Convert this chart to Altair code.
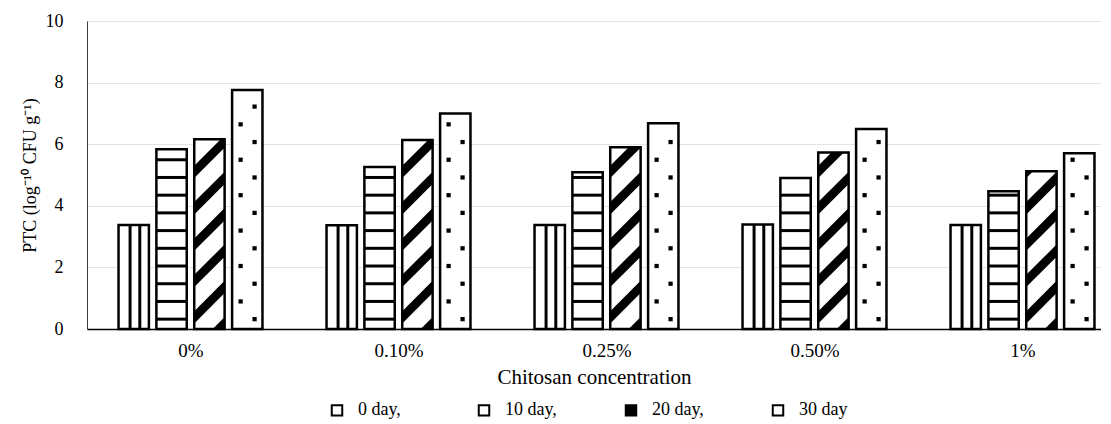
import altair as alt
import pandas as pd

# ---------------- data ----------------
categories = ["0%", "0.10%", "0.25%", "0.50%", "1%"]
days = ["0 day", "10 day", "20 day", "30 day"]
day0 = [3.38, 3.37, 3.38, 3.39, 3.38]
day10 = [5.84, 5.26, 5.09, 4.90, 4.47]
day20 = [6.16, 6.14, 5.90, 5.73, 5.12]
day30 = [7.76, 7.00, 6.68, 6.49, 5.71]
series = [day0, day10, day20, day30]
legend_fill = ["white", "white", "black", "white"]

# ---------------- style / layout constants ----------------
FONT = "Liberation Serif"
W_PX, H_PX = 1014, 308
X_MIN, X_MAX = -0.4976, 4.3774      # x scale domain (category index units)
PITCH = 0.182                        # distance between bars in a group
BAR_W = 0.146                        # bar width
STEP = 0.575                         # vertical pattern step (y units)
PX_X = W_PX / (X_MAX - X_MIN)
PX_Y = H_PX / 10.0
SLOPE = PX_X / PX_Y                  # 45 degree stripes (y units per x unit)
PERIOD = 1.18                        # stripe period (y units)
THICK = 0.40                         # stripe vertical thickness (y units)

bars, vlines, hlines, stripes, dots = [], [], [], [], []
sid = 0
for gi, cat in enumerate(categories):
    for si, day in enumerate(days):
        v = series[si][gi]
        xl = gi + (si - 1.5) * PITCH - BAR_W / 2
        xr = xl + BAR_W
        bars.append(dict(cat=cat, day=day, value=v, xl=xl, xr=xr, idx=gi))
        if si == 0:
            for f in (0.38, 0.70):
                vlines.append(dict(x=xl + BAR_W * f, y=0, y2=v))
        elif si == 1:
            k = 0
            while 0.32 + k * STEP < v - 0.12:
                hlines.append(dict(x=xl, x2=xr, y=0.32 + k * STEP))
                k += 1
        elif si == 2:
            y0 = -1.0
            while y0 < v:
                cands = {xl, xr}
                for base in (y0, y0 + THICK):
                    for lim in (0.0, v):
                        xc = xl + (lim - base) / SLOPE
                        if xl < xc < xr:
                            cands.add(xc)
                for xc in sorted(cands):
                    lo = min(max(y0 + SLOPE * (xc - xl), 0.0), v)
                    hi = min(max(y0 + THICK + SLOPE * (xc - xl), 0.0), v)
                    stripes.append(dict(sid=sid, x=xc, y=lo, y2=hi))
                sid += 1
                y0 += PERIOD
        else:
            k = 0
            while 0.32 + k * STEP < v - 0.12:
                f = 0.74 if k % 2 == 0 else 0.28
                dots.append(dict(x=xl + BAR_W * f, y=0.32 + k * STEP))
                k += 1

df_bars = pd.DataFrame(bars)
df_v = pd.DataFrame(vlines)
df_h = pd.DataFrame(hlines)
df_s = pd.DataFrame(stripes)
df_d = pd.DataFrame(dots)

label_expr = "[" + ",".join("'%s'" % c for c in categories) + "][round(datum.value)]"

xscale = alt.Scale(domain=[X_MIN, X_MAX], nice=False, zero=False)
yscale = alt.Scale(domain=[0, 10], nice=False)

x_axis = alt.Axis(values=list(range(len(categories))), labelExpr=label_expr,
                  grid=False, ticks=False, domainColor="black", domainWidth=1.5,
                  labelFont=FONT, labelFontSize=19, labelColor="black", labelPadding=12,
                  title="Chitosan concentration", titleFont=FONT, titleFontSize=21,
                  titleFontWeight="normal", titleColor="black", titlePadding=6)
y_axis = alt.Axis(values=[0, 2, 4, 6, 8, 10], grid=True, gridColor="#e3e3e3",
                  ticks=False, domainColor="#3a3a3a", domainWidth=1,
                  labelFont=FONT, labelFontSize=18, labelColor="black", labelPadding=24,
                  title="PTC (log\u207b\u00b9\u2070 CFU g\u207b\u00b9)", titleFont=FONT,
                  titleFontSize=18, titleFontWeight="normal", titleColor="black",
                  titlePadding=6)


def X(field):
    return alt.X(field, scale=xscale, axis=x_axis)


def Y(field):
    return alt.Y(field, scale=yscale, axis=y_axis, stack=None)


base_fill = alt.Chart(df_bars).mark_rect(fill="white", strokeWidth=0).encode(
    x=X("xl:Q"), x2="xr:Q", y=Y("value:Q"), y2=alt.datum(0),
)

v_layer = alt.Chart(df_v).mark_rule(color="black", strokeWidth=3).encode(
    x=X("x:Q"), y=Y("y:Q"), y2="y2:Q",
)

h_layer = alt.Chart(df_h).mark_rule(color="black", strokeWidth=3).encode(
    x=X("x:Q"), x2="x2:Q", y=Y("y:Q"),
)

s_layer = alt.Chart(df_s).mark_area(color="black", opacity=1, interpolate="linear",
                                     orient="vertical").encode(
    x=X("x:Q"), y=Y("y:Q"), y2="y2:Q", detail="sid:N",
)

d_layer = alt.Chart(df_d).mark_square(color="black", size=18, opacity=1).encode(
    x=X("x:Q"), y=Y("y:Q"),
)

outline = alt.Chart(df_bars).mark_rect(fillOpacity=0, stroke="black", strokeWidth=2.5).encode(
    x=X("xl:Q"), x2="xr:Q", y=Y("value:Q"), y2=alt.datum(0),
)

legend_layer = alt.Chart(df_bars).mark_point(filled=True, opacity=0, shape="square").encode(
    x=X("idx:Q"),
    y=Y("value:Q"),
    fill=alt.Fill("day:N", scale=alt.Scale(domain=days, range=legend_fill),
                  legend=alt.Legend(title=None, orient="none", legendX=241, legendY=380,
                                    direction="horizontal", columns=4, gridAlign="all",
                                    symbolType="square", symbolSize=110,
                                    symbolStrokeColor="black", symbolStrokeWidth=2,
                                    symbolOpacity=1, labelFont=FONT, labelFontSize=18,
                                    labelColor="black", labelOffset=12, columnPadding=64,
                                    labelExpr="datum.label + (datum.label == '30 day' ? '' : ',')")),
)

chart = alt.layer(base_fill, v_layer, h_layer, s_layer, d_layer, outline, legend_layer).properties(
    width=W_PX, height=H_PX,
    padding={"left": 13, "top": 4, "right": 0, "bottom": 0},
).configure_view(stroke=None).configure(background="white")

chart.save("out.html", embed_options={"renderer": "svg", "actions": False})
